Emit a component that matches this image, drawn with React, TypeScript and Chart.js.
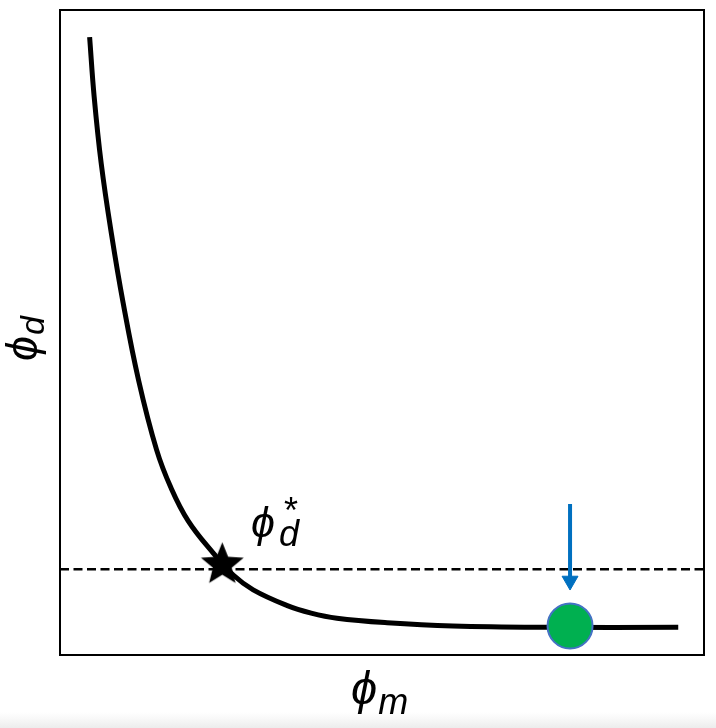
import React, { useEffect, useRef } from "react";
import { Chart, registerables } from "chart.js";

Chart.register(...registerables);

// Main curve (phi_m, phi_d)
const curveX = [0.46, 0.53, 0.64, 0.8, 0.98, 1.22, 1.5, 1.72, 1.99, 2.38, 2.69, 3.0, 3.52, 3.9, 4.3, 5.08, 6.1, 7.56, 9.6];
const curveY = [9.58, 8.66, 7.62, 6.52, 5.46, 4.26, 3.18, 2.6, 2.08, 1.58, 1.24, 1.01, 0.77, 0.65, 0.57, 0.5, 0.45, 0.43, 0.43];

// Threshold phi_d*
const thresholdX = [0, 10];
const thresholdY = [1.33, 1.33];

// Star marker at the intersection
const starX = [2.52];
const starY = [1.4];

// Green operating point
const pointX = [7.92];
const pointY = [0.45];

// Blue arrow (shaft from top to base of head) and head
const arrowX = [7.92, 7.92];
const arrowY = [2.34, 1.2];
const arrowHeadX = [7.92];
const arrowHeadY = [1.15];

const xLabel = "ϕ";
const xSub = "m";
const yLabel = "ϕ";
const ySub = "d";
const starLabel = "ϕ";
const starSup = "*";
const starSub = "d";

function makeStar(R: number): HTMLCanvasElement {
  const c = document.createElement("canvas");
  const s = Math.ceil(R * 2 + 4);
  c.width = s;
  c.height = s;
  const ctx = c.getContext("2d")!;
  const cx = s / 2;
  const cy = s / 2;
  const r = R * 0.44;
  ctx.beginPath();
  for (let i = 0; i < 10; i++) {
    const rad = i % 2 === 0 ? R : r;
    const a = -Math.PI / 2 + (i * Math.PI) / 5;
    const px = cx + Math.cos(a) * rad;
    const py = cy + Math.sin(a) * rad;
    if (i === 0) ctx.moveTo(px, py);
    else ctx.lineTo(px, py);
  }
  ctx.closePath();
  ctx.fillStyle = "#000";
  ctx.fill();
  return c;
}

const zip = (xs: number[], ys: number[]) => xs.map((x, i) => ({ x, y: ys[i] }));

const framePlugin = {
  id: "frame",
  beforeDraw(chart: any) {
    const { ctx, width } = chart;
    ctx.save();
    ctx.fillStyle = "#ffffff";
    ctx.fillRect(0, 0, width, chart.height);
    const g = ctx.createLinearGradient(0, 712, 0, 728);
    g.addColorStop(0, "rgba(240,240,240,0)");
    g.addColorStop(1, "rgba(236,236,236,1)");
    ctx.fillStyle = g;
    ctx.fillRect(0, 712, width, 16);
    ctx.restore();
  },
  afterDraw(chart: any) {
    const { ctx, chartArea } = chart;
    const { left, top, right, bottom } = chartArea;
    ctx.save();
    ctx.strokeStyle = "#000";
    ctx.lineWidth = 2;
    ctx.strokeRect(left, top, right - left, bottom - top);

    ctx.fillStyle = "#000";
    ctx.textBaseline = "alphabetic";
    ctx.textAlign = "left";
    const fam = '"Liberation Sans", Arial, sans-serif';

    // x label
    ctx.font = `italic 47px ${fam}`;
    const wx = ctx.measureText(xLabel).width;
    ctx.fillText(xLabel, 351, 704);
    ctx.font = `italic 36px ${fam}`;
    ctx.fillText(xSub, 351 + wx + 1, 714);

    // y label rotated
    ctx.save();
    ctx.translate(37, 361);
    ctx.rotate(-Math.PI / 2);
    ctx.font = `italic 45px ${fam}`;
    const wy = ctx.measureText(yLabel).width;
    ctx.fillText(yLabel, 0, 0);
    ctx.font = `italic 34px ${fam}`;
    ctx.fillText(ySub, wy + 1, 7);
    ctx.restore();

    // star label
    ctx.font = `italic 43px ${fam}`;
    const ws = ctx.measureText(starLabel).width;
    ctx.fillText(starLabel, 251, 537);
    ctx.font = `36px ${fam}`;
    ctx.fillText(starSup, 251 + ws + 9, 523);
    ctx.font = `italic 36px ${fam}`;
    ctx.fillText(starSub, 251 + ws + 4, 546);
    ctx.restore();
  },
};

export default function App() {
  const ref = useRef<HTMLCanvasElement | null>(null);
  useEffect(() => {
    if (!ref.current) return;
    const star = makeStar(22.5);
    const chart = new Chart(ref.current, {
      type: "line",
      data: {
        datasets: [
          {
            data: zip(curveX, curveY),
            borderColor: "#000",
            borderWidth: 5,
            pointRadius: 0,
            tension: 0.4,
            fill: false,
            order: 5,
          },
          {
            data: zip(thresholdX, thresholdY),
            borderColor: "#000",
            borderWidth: 2.6,
            borderDash: [9, 4.5],
            pointRadius: 0,
            fill: false,
            order: 6,
          },
          {
            data: zip(arrowX, arrowY),
            borderColor: "#0070C0",
            borderWidth: 4,
            pointRadius: 0,
            fill: false,
            order: 3,
          },
          {
            data: zip(arrowHeadX, arrowHeadY),
            showLine: false,
            pointStyle: "triangle",
            rotation: 180,
            pointRadius: 9.2,
            backgroundColor: "#0070C0",
            borderColor: "#0070C0",
            borderWidth: 1,
            order: 2,
          },
          {
            data: zip(starX, starY),
            showLine: false,
            pointStyle: star as any,
            pointRadius: 22,
            order: 1,
          },
          {
            data: zip(pointX, pointY),
            showLine: false,
            pointStyle: "circle",
            pointRadius: 22.5,
            backgroundColor: "#00B050",
            borderColor: "#4472C4",
            borderWidth: 2,
            order: 0,
          },
        ] as any,
      },
      options: {
        animation: false,
        responsive: false,
        events: [],
        layout: { autoPadding: false, padding: { left: 60, top: 10, right: 12, bottom: 73 } },
        plugins: { legend: { display: false }, tooltip: { enabled: false } },
        scales: {
          x: { type: "linear", min: 0, max: 10, display: false },
          y: { type: "linear", min: 0, max: 10, display: false },
        },
        datasets: { line: { clip: false } as any },
      } as any,
      plugins: [framePlugin],
    });
    return () => chart.destroy();
  }, []);
  return (
    <div style={{ position: "absolute", left: 0, top: 0, width: 716, height: 728 }}>
      <canvas ref={ref} width={716} height={728} style={{ display: "block", width: 716, height: 728 }} />
    </div>
  );
}
